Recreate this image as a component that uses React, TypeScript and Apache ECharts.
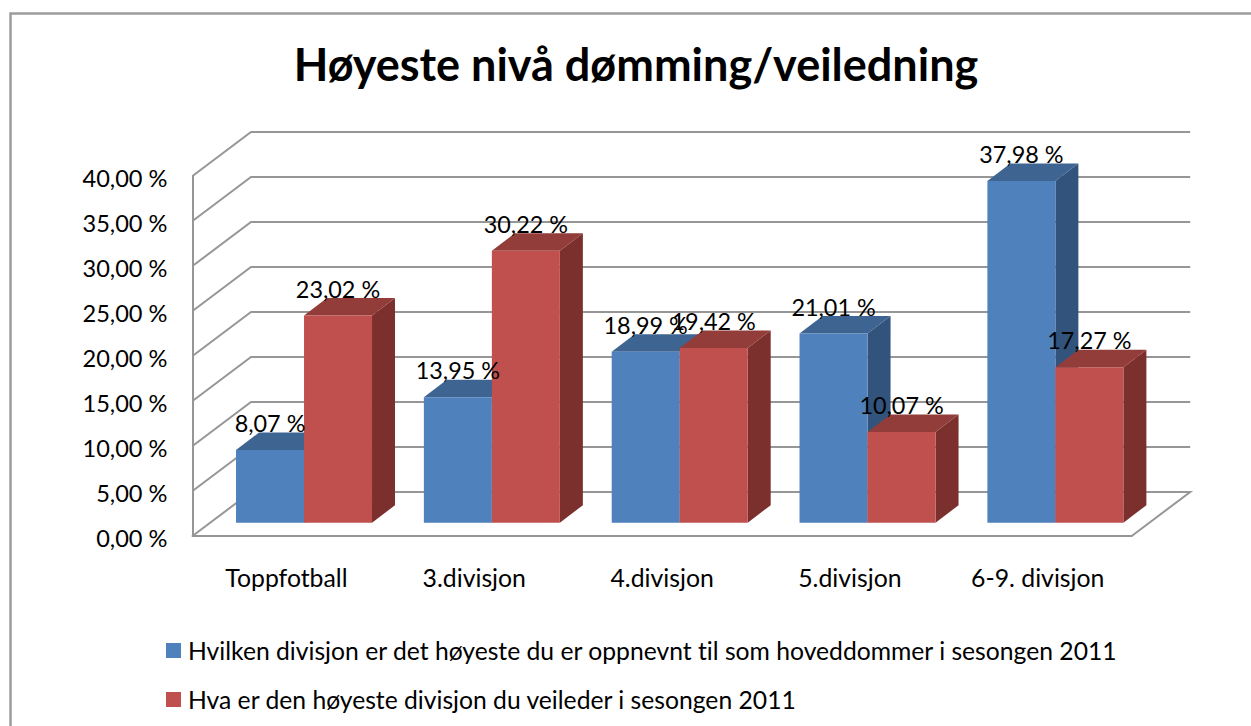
import React, { useEffect, useRef } from "react";
import * as echarts from "echarts";

const categories = ["Toppfotball", "3.divisjon", "4.divisjon", "5.divisjon", "6-9. divisjon"];
const seriesBlueName = "Hvilken divisjon er det høyeste du er oppnevnt til som hoveddommer i sesongen 2011";
const seriesRedName = "Hva er den høyeste divisjon du veileder i sesongen 2011";
const blueValues = [8.07, 13.95, 18.99, 21.01, 37.98];
const redValues = [23.02, 30.22, 19.42, 10.07, 17.27];
const wallTicks = [0, 5, 10, 15, 20, 25, 30, 35, 40];

const FONT = "Lato";
const GRID_COLOR = "#969696";
const WALL_DX = 58.5;
const WALL_DY = -44;
const BAR_OFF_X = 17.6;
const BAR_OFF_Y = -13.3;
const BAR_DX = 23;
const BAR_DY = -17.5;
const BAR_W = 68;

const fmt = (v: number) => v.toFixed(2).replace(".", ",") + " %";

function barSeries(name: string, values: number[], side: number, front: string, top: string, right: string) {
  return {
    type: "custom",
    name,
    itemStyle: { color: front },
    encode: { x: 0, y: 1 },
    z: 3 + side,
    silent: true,
    clip: false,
    data: values.map((v, i) => [i, v]),
    renderItem: (_p: any, api: any) => {
      const i = api.value(0);
      const v = api.value(1);
      const topPt = api.coord([i, v]);
      const basePt = api.coord([i, 0]);
      const x0 = topPt[0] + BAR_OFF_X + (side === 0 ? -BAR_W : 0);
      const x1 = x0 + BAR_W;
      const yt = topPt[1] + BAR_OFF_Y;
      const yb = basePt[1] + BAR_OFF_Y;
      return {
        type: "group",
        children: [
          { type: "polygon", shape: { points: [[x1, yt], [x1 + BAR_DX, yt + BAR_DY], [x1 + BAR_DX, yb + BAR_DY], [x1, yb]] }, style: { fill: right } },
          { type: "polygon", shape: { points: [[x0, yt], [x0 + BAR_DX, yt + BAR_DY], [x1 + BAR_DX, yt + BAR_DY], [x1, yt]] }, style: { fill: top } },
          { type: "rect", shape: { x: x0, y: yt, width: BAR_W, height: yb - yt }, style: { fill: front } },
        ],
      };
    },
  };
}

function labelSeries(values: number[], side: number) {
  return {
    type: "custom",
    silent: true,
    clip: false,
    z: 10,
    encode: { x: 0, y: 1 },
    data: values.map((v, i) => [i, v]),
    renderItem: (_p: any, api: any) => {
      const i = api.value(0);
      const v = api.value(1);
      const pt = api.coord([i, v]);
      const cx = pt[0] + BAR_OFF_X + (side === 0 ? -BAR_W / 2 : BAR_W / 2);
      return {
        type: "text",
        x: cx,
        y: pt[1] + BAR_OFF_Y - 27,
        style: { text: fmt(v), fill: "#000", font: `23.4px ${FONT}`, align: "center", verticalAlign: "middle" },
      };
    },
  };
}

export default function App() {
  const ref = useRef<HTMLDivElement>(null);
  useEffect(() => {
    document.body.style.margin = "0";
    const chart = echarts.init(ref.current!, undefined, { renderer: "svg" });
    chart.setOption({
      animation: false,
      backgroundColor: "#fff",
      textStyle: { fontFamily: FONT },
      title: {
        text: "Høyeste nivå dømming/veiledning",
        left: 631,
        top: 36,
        textAlign: "center",
        textStyle: { fontFamily: FONT, fontWeight: "bold", fontSize: 45, color: "#000" },
      },
      legend: {
        orient: "vertical",
        left: 166,
        top: 638,
        padding: 0,
        itemGap: 24,
        itemWidth: 15,
        itemHeight: 15,
        icon: "rect",
        data: [seriesBlueName, seriesRedName],
        textStyle: { fontFamily: FONT, fontSize: 24.7, color: "#000", padding: [0, 0, 0, 2] },
      },
      grid: { left: 192.5, right: 119.3, top: 176, bottom: 190 },
      xAxis: {
        type: "category",
        data: categories,
        axisLine: { show: true, lineStyle: { color: GRID_COLOR, width: 2 } },
        axisTick: { show: false },
        axisLabel: { color: "#000", fontFamily: FONT, fontSize: 24.8, margin: 29 },
      },
      yAxis: {
        type: "value",
        min: 0,
        max: 40,
        interval: 5,
        axisLine: { show: true, lineStyle: { color: GRID_COLOR, width: 2 } },
        axisTick: { show: false },
        splitLine: { show: false },
        axisLabel: {
          color: "#000",
          margin: 25,
          formatter: (v: number) => `{t|${fmt(v)}}`,
          rich: { t: { fontFamily: FONT, fontSize: 23.6, color: "#000", padding: [4, 0, 0, 0] } },
        },
      },
      graphic: [
        {
          type: "polyline",
          silent: true,
          shape: { points: [[10.5, 726], [10.5, 13.5], [1251, 13.5]] },
          style: { fill: "none", stroke: "#9c9c9c", lineWidth: 2.5 },
        },
      ],
      series: [
        {
          type: "custom",
          silent: true,
          clip: false,
          z: 1,
          encode: { x: 0, y: 1 },
          data: wallTicks.map((t) => [0, t]),
          renderItem: (p: any, api: any) => {
            const cs = p.coordSys;
            const t = api.value(1);
            const y = api.coord([0, t])[1];
            const xl = cs.x;
            const xr = cs.x + cs.width;
            const pts: number[][] = [[xl, y], [xl + WALL_DX, y + WALL_DY], [xr + WALL_DX, y + WALL_DY]];
            if (t === 0) pts.push([xr, y]);
            return { type: "polyline", shape: { points: pts }, style: { fill: "none", stroke: GRID_COLOR, lineWidth: 2 } };
          },
        },
        barSeries(seriesBlueName, blueValues, 0, "#4F81BD", "#3E6492", "#32547C"),
        barSeries(seriesRedName, redValues, 1, "#C0504D", "#933D3A", "#7B302E"),
        labelSeries(blueValues, 0),
        labelSeries(redValues, 1),
      ],
    });
    return () => chart.dispose();
  }, []);
  return <div ref={ref} style={{ width: 1251, height: 726, fontVariantLigatures: "none" }} />;
}
